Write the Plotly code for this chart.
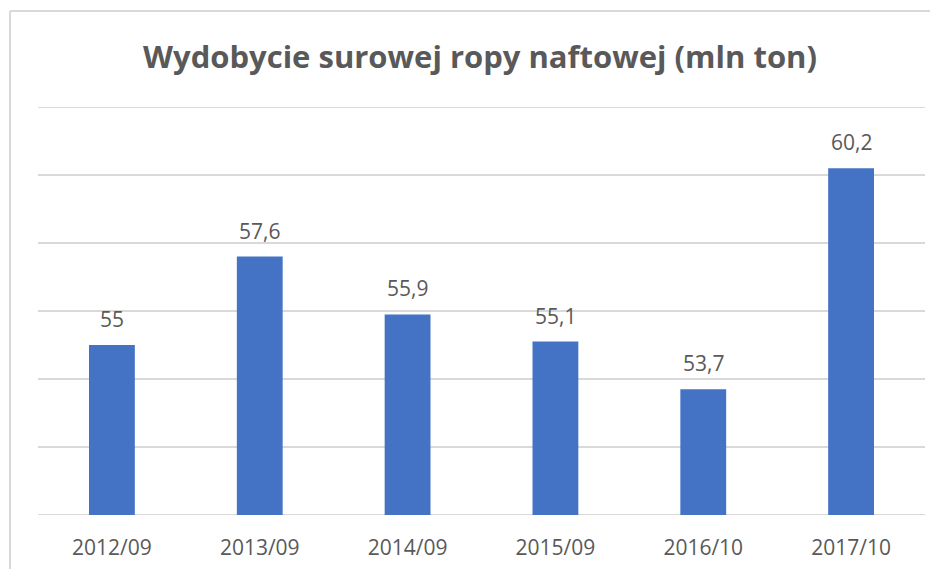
import plotly.graph_objects as go

categories = ["2012/09", "2013/09", "2014/09", "2015/09", "2016/10", "2017/10"]
values = [55, 57.6, 55.9, 55.1, 53.7, 60.2]
labels = [str(v).replace(".", ",") for v in values]
y_min, y_max, y_step = 50, 62, 2

# page body has an 8px margin; compensate so the chart lands where the reference is
OFF = 8
W, H = 938 - OFF, 569 - OFF
ml, mt = 38 - OFF, 107 - OFF
pw, ph = 887, 408
mr = W - ml - pw
mb = H - mt - ph

fig = go.Figure()
fig.add_trace(go.Bar(
    x=categories, y=values,
    marker=dict(color="#4472C4", line=dict(width=0)),
    hoverinfo="x+y",
))

for c, v, t in zip(categories, values, labels):
    fig.add_annotation(x=c, y=v, text=t, showarrow=False, yanchor="bottom",
                       yshift=10, font=dict(family="Open Sans", size=21, color="#595959"))

# edge gridlines (plotly drops gridlines on the plot-area edges)
for yv in (y_min, y_max):
    fig.add_shape(type="line", xref="paper", yref="y", x0=0, x1=1, y0=yv, y1=yv,
                  line=dict(color="#d9d9d9", width=2), layer="below")

# outer chart border (top and left visible)
bx, by = 10 - OFF, 11 - OFF
fig.add_shape(type="line", xref="paper", yref="paper",
              x0=(bx - ml) / pw, x1=(W + 5 - ml) / pw,
              y0=(mt + ph - by) / ph, y1=(mt + ph - by) / ph,
              line=dict(color="#d9d9d9", width=2))
fig.add_shape(type="line", xref="paper", yref="paper",
              x0=(bx - ml) / pw, x1=(bx - ml) / pw,
              y0=(mt + ph - by) / ph, y1=-(mb + 5) / ph,
              line=dict(color="#d9d9d9", width=2))

fig.update_layout(
    width=W, height=H,
    margin=dict(l=ml, r=mr, t=mt, b=mb, autoexpand=False),
    paper_bgcolor="white", plot_bgcolor="white",
    title=dict(text="<b>Wydobycie surowej ropy naftowej (mln ton)</b>",
               x=(480 - OFF) / W, xanchor="center", y=1 - (57 - OFF) / H, yanchor="middle",
               font=dict(family="Open Sans", size=31, color="#595959")),
    bargap=0.69,
    showlegend=False,
    xaxis=dict(showgrid=False, showline=False, ticks="", ticklabelstandoff=18,
               automargin=False,
               tickfont=dict(family="Open Sans", size=21, color="#595959")),
    yaxis=dict(range=[y_min, y_max], dtick=y_step, tick0=y_min, showticklabels=False,
               showgrid=True, gridcolor="#d9d9d9", gridwidth=2, automargin=False,
               zeroline=False, showline=False),
)

fig.write_html("out.html")
